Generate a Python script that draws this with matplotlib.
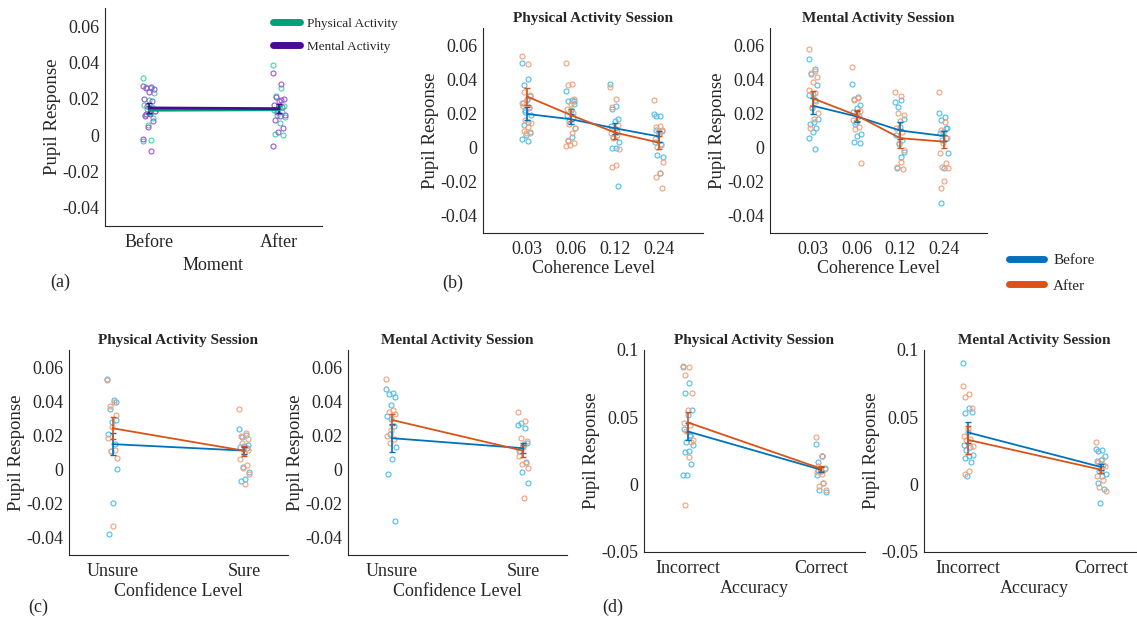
import numpy as np
import matplotlib
matplotlib.use("Agg")
import matplotlib.pyplot as plt
from matplotlib.lines import Line2D

plt.rcParams['font.family'] = ['Liberation Serif', 'DejaVu Serif']
plt.rcParams['text.color'] = '#262626'
plt.rcParams['axes.labelcolor'] = '#262626'

W, H = 1137, 628

# ---- (a) moment x activity ----
moments = ['Before', 'After']
a_phys_pts = [
    [0.0312, 0.026, 0.0266, 0.0233, 0.0196, 0.0168, 0.0153, 0.0144, 0.0131,
     0.0122, 0.0113, 0.0094, 0.0057, -0.003, -0.0026],
    [0.0388, 0.026, 0.0214, 0.0163, 0.0155, 0.014, 0.0126, 0.0113, 0.01,
     0.0066, 0.0006, -0.0001],
]
a_ment_pts = [
    [0.0273, 0.0266, 0.026, 0.0255, 0.0236, 0.0201, 0.019, 0.0159, 0.0131,
     0.0118, 0.0107, 0.0079, 0.0044, -0.0022, -0.0087, 0.0116],
    [0.0343, 0.0283, 0.0211, 0.0201, 0.0187, 0.0168, 0.0155, 0.0126, 0.0113,
     0.0103, 0.0085, 0.0039, 0.002, -0.0057, 0.0196],
]
a_phys_mean = [0.0137, 0.0140]
a_phys_err = [0.0022, 0.0020]
a_ment_mean = [0.0150, 0.0146]
a_ment_err = [0.0028, 0.0026]

# ---- (b) coherence level ----
coherence = ['0.03', '0.06', '0.12', '0.24']
b_phys_before = [
    [0.0495, 0.0403, 0.0366, 0.03, 0.028, 0.026, 0.0237, 0.0211, 0.0192, 0.0152,
     0.0133, 0.0094, 0.0074, 0.0049, 0.0041, 0.0221],
    [0.0332, 0.028, 0.027, 0.0254, 0.0221, 0.0192, 0.0178, 0.0156, 0.0113,
     0.0061, 0.0039, 0.0274],
    [0.0373, 0.0244, 0.0227, 0.0168, 0.0158, 0.0127, 0.0094, 0.0061, 0.0035,
     -0.0004, 0.0, -0.0223],
    [0.0197, 0.0186, 0.0104, 0.0098, 0.008, 0.0035, 0.0022, -0.0043, -0.0053,
     -0.0151, 0.0182],
]
b_phys_after = [
    [0.0538, 0.0489, 0.0323, 0.0309, 0.0283, 0.0244, 0.0231, 0.0162, 0.0143,
     0.0119, 0.0098, 0.0088, 0.0084, 0.026],
    [0.0495, 0.0373, 0.0368, 0.0283, 0.0256, 0.0227, 0.0201, 0.0139, 0.0113,
     0.0088, 0.0045, 0.0029, 0.0016, 0.001],
    [0.0352, 0.0285, 0.024, 0.0133, 0.0108, 0.0084, 0.0074, 0.0055, -0.001,
     -0.0102, -0.0111],
    [0.0276, 0.0127, 0.0119, 0.0104, 0.0094, 0.0049, 0.0016, 0.0006, -0.0086,
     -0.0147, -0.017, -0.0235],
]
b_phys_before_mean = [0.0197, 0.0166, 0.0113, 0.0065]
b_phys_before_err = [0.0038, 0.0030, 0.0031, 0.0030]
b_phys_after_mean = [0.0299, 0.0190, 0.0088, 0.0029]
b_phys_after_err = [0.0052, 0.0035, 0.0035, 0.0040]

b_ment_before = [
    [0.0518, 0.0461, 0.0432, 0.0368, 0.0313, 0.0305, 0.028, 0.0231, 0.0168,
     0.0147, 0.0139, 0.0113, 0.0094, 0.0055, -0.001],
    [0.0373, 0.0299, 0.0283, 0.025, 0.0231, 0.0211, 0.0186, 0.0139, 0.0078,
     0.0065, 0.0035, 0.0029, 0.0147],
    [0.0266, 0.028, 0.0237, 0.0168, 0.0119, 0.0074, 0.0045, 0.002, -0.0023,
     -0.0053, -0.0121],
    [0.0205, 0.0178, 0.0162, 0.0117, 0.0094, 0.0088, 0.0055, 0.0045, -0.0033,
     -0.0121, -0.0323, 0.0113],
]
b_ment_after = [
    [0.0577, 0.045, 0.0436, 0.0412, 0.0381, 0.0338, 0.0319, 0.0237, 0.0205,
     0.0166, 0.0113, 0.027],
    [0.0471, 0.0289, 0.028, 0.0215, 0.0186, 0.0162, 0.0123, 0.0111, -0.0088,
     0.0201],
    [0.0323, 0.0303, 0.0201, 0.0192, 0.0158, 0.0113, 0.0094, 0.0025, -0.0014,
     -0.0082, -0.0115, -0.0127],
    [0.0328, 0.0152, 0.0104, 0.0059, 0.0029, -0.0033, -0.0092, -0.0111, -0.0121,
     -0.0194, -0.0239],
]
b_ment_before_mean = [0.0244, 0.0182, 0.0100, 0.0068]
b_ment_before_err = [0.0045, 0.0030, 0.0047, 0.0032]
b_ment_after_mean = [0.0287, 0.0188, 0.0055, 0.0035]
b_ment_after_err = [0.0042, 0.0030, 0.0055, 0.0040]

# ---- (c) confidence level ----
confidence = ['Unsure', 'Sure']
c_phys_before = [
    [0.0532, 0.0409, 0.0354, 0.0291, 0.0278, 0.0207, 0.0151, 0.0106, 0.0002,
     -0.0196, -0.0377, 0.0395],
    [0.0239, 0.0203, 0.019, 0.0145, 0.0139, 0.0131, 0.0125, 0.0018, -0.0012,
     -0.0055, -0.0066],
]
c_phys_after = [
    [0.0522, 0.0393, 0.0375, 0.0321, 0.0252, 0.0184, 0.0115, 0.011, 0.0068,
     -0.0328],
    [0.0356, 0.0217, 0.0154, 0.018, 0.0096, 0.0063, 0.0027, 0.0008, -0.0027,
     -0.0086, 0.0197, 0.0115],
]
c_phys_before_mean = [0.0149, 0.0111]
c_phys_before_err = [0.0063, 0.0020]
c_phys_after_mean = [0.0242, 0.0110]
c_phys_after_err = [0.0065, 0.0030]

c_ment_before = [
    [0.0471, 0.0448, 0.0444, 0.0424, 0.0379, 0.0311, 0.0256, 0.0209, 0.0135,
     0.0061, -0.0027, -0.0301, 0.0295],
    [0.0262, 0.0242, 0.0272, 0.0158, 0.0139, 0.0111, 0.0047, -0.0016, -0.008,
     0.015],
]
c_ment_after = [
    [0.0532, 0.035, 0.034, 0.0325, 0.0229, 0.0197, 0.0178, 0.0158],
    [0.034, 0.0285, 0.0184, 0.0168, 0.0135, 0.008, 0.0041, 0.0031, 0.0012,
     -0.0168, 0.0106],
]
c_ment_before_mean = [0.0184, 0.0125]
c_ment_before_err = [0.0080, 0.0030]
c_ment_after_mean = [0.0291, 0.0110]
c_ment_after_err = [0.0032, 0.0035]

# ---- (d) accuracy ----
accuracy = ['Incorrect', 'Correct']
d_phys_before = [
    [0.0877, 0.0754, 0.068, 0.0551, 0.0519, 0.0415, 0.0358, 0.0314, 0.0292,
     0.0252, 0.024, 0.0156, 0.0069, 0.0074, 0.037],
    [0.0301, 0.021, 0.0165, 0.0124, 0.0099, 0.0074, 0.0012, -0.0037, -0.0054,
     0.0215, 0.0106],
]
d_phys_after = [
    [0.0882, 0.0872, 0.0815, 0.068, 0.0556, 0.0457, 0.0445, 0.04, 0.0329,
     0.0205, -0.0153, 0.0314],
    [0.0353, 0.021, 0.0136, 0.0116, 0.0099, 0.0091, 0.0012, -0.0012, -0.0037,
     0.0082],
]
d_phys_before_mean = [0.0395, 0.0111]
d_phys_before_err = [0.0066, 0.0020]
d_phys_after_mean = [0.0462, 0.0119]
d_phys_after_err = [0.0074, 0.0020]

d_ment_before = [
    [0.0902, 0.0568, 0.0531, 0.0536, 0.0388, 0.0296, 0.0277, 0.0254, 0.0222,
     0.021, 0.0198, 0.0165, 0.0067],
    [0.0264, 0.0254, 0.0247, 0.021, 0.0185, 0.0178, 0.0148, 0.0099, 0.0082,
     0.0062, 0.0012, -0.003, -0.0136],
]
d_ment_after = [
    [0.0734, 0.0674, 0.065, 0.0568, 0.0412, 0.0358, 0.0341, 0.0329, 0.0284,
     0.0104, 0.0079],
    [0.0314, 0.019, 0.0165, 0.0136, 0.0111, 0.0067, 0.0037, -0.0017, -0.0049],
]
d_ment_before_mean = [0.0388, 0.0131]
d_ment_before_err = [0.0075, 0.0025]
d_ment_after_mean = [0.0333, 0.0111]
d_ment_after_err = [0.0105, 0.0025]

BLUE, BLUE_PT = '#0072BD', '#4DBEEE'
ORANGE, ORANGE_PT = '#D95319', '#F59F78'
GREEN, GREEN_PT = '#00A07A', '#40D6A8'
PURPLE, PURPLE_PT = '#4B0A92', '#9A58D8'
DARK = '#262626'


def px_axes(fig, left, top, right, bottom):
    return fig.add_axes([left / W, 1 - bottom / H,
                         (right - left) / W, (bottom - top) / H])


def jitter(n, width):
    # spread the points evenly around the category centre
    return width * (((np.arange(n) * 0.6180339887) % 1) * 2 - 1)


def style(ax, labels, xlim, ylim, yticks, ytl, xlabel, title=None, xlpad=1):
    for s in ['top', 'right']:
        ax.spines[s].set_visible(False)
    for s in ['left', 'bottom']:
        ax.spines[s].set_color(DARK)
        ax.spines[s].set_linewidth(0.8)
    ax.set_xlim(*xlim)
    ax.set_ylim(*ylim)
    ax.set_xticks(np.arange(1, len(labels) + 1))
    ax.set_xticklabels(labels)
    ax.set_yticks(yticks)
    ax.set_yticklabels(ytl)
    ax.tick_params(length=0, labelsize=13, colors=DARK, pad=4)
    ax.tick_params(axis='x', pad=6)
    ax.set_xlabel(xlabel, fontsize=13, labelpad=xlpad)
    ax.set_ylabel('Pupil Response', fontsize=13.5, labelpad=1)
    if title:
        ax.set_title(title, fontsize=11, fontweight='bold', pad=4)


def draw_groups(ax, groups, jw, lw=1.3, ms=3.6):
    # groups: list of (points, means, errs, line colour, point colour)
    for pts, _, _, _, pc in groups:
        for i, vals in enumerate(pts):
            x = i + 1 + jitter(len(vals), jw)
            ax.plot(x, vals, 'o', mfc='none', mec=pc, ms=ms, mew=0.8)
    for _, mean, err, lc, _ in groups:
        x = np.arange(1, len(mean) + 1)
        ax.errorbar(x, mean, yerr=err, color=lc, lw=lw, elinewidth=1.2,
                    capsize=2, capthick=1.0)


fig = plt.figure(figsize=(W / 100, H / 100), dpi=100)

yt1 = [-0.04, -0.02, 0, 0.02, 0.04, 0.06]
yt1l = ['-0.04', '-0.02', '0', '0.02', '0.04', '0.06']
yt2 = [-0.05, 0, 0.05, 0.1]
yt2l = ['-0.05', '0', '0.05', '0.1']

# (a)
ax = px_axes(fig, 105, 8, 322, 226)
draw_groups(ax, [(a_phys_pts, a_phys_mean, a_phys_err, GREEN, GREEN_PT),
                 (a_ment_pts, a_ment_mean, a_ment_err, PURPLE, PURPLE_PT)],
            0.05, lw=2.0)
style(ax, moments, (0.66, 2.33), (-0.05, 0.07), yt1, yt1l, 'Moment', xlpad=4)
ax.legend(handles=[Line2D([], [], color=GREEN, lw=5, solid_capstyle='round'),
                   Line2D([], [], color=PURPLE, lw=5, solid_capstyle='round')],
          labels=['Physical Activity', 'Mental Activity'],
          loc='upper left', bbox_to_anchor=(0.72, 1.01), frameon=False,
          fontsize=9.5, handlelength=2.0, handletextpad=0.6, labelspacing=0.8)

# (b)
ax = px_axes(fig, 483, 28, 703, 233)
draw_groups(ax, [(b_phys_before, b_phys_before_mean, b_phys_before_err, BLUE, BLUE_PT),
                 (b_phys_after, b_phys_after_mean, b_phys_after_err, ORANGE, ORANGE_PT)],
            0.11)
style(ax, coherence, (0, 5), (-0.05, 0.07), yt1, yt1l, 'Coherence Level',
      'Physical Activity Session')

ax = px_axes(fig, 770, 28, 987, 233)
draw_groups(ax, [(b_ment_before, b_ment_before_mean, b_ment_before_err, BLUE, BLUE_PT),
                 (b_ment_after, b_ment_after_mean, b_ment_after_err, ORANGE, ORANGE_PT)],
            0.11)
style(ax, coherence, (0, 5), (-0.05, 0.07), yt1, yt1l, 'Coherence Level',
      'Mental Activity Session')

# (c)
ax = px_axes(fig, 69, 350, 288, 555)
draw_groups(ax, [(c_phys_before, c_phys_before_mean, c_phys_before_err, BLUE, BLUE_PT),
                 (c_phys_after, c_phys_after_mean, c_phys_after_err, ORANGE, ORANGE_PT)],
            0.04)
style(ax, confidence, (0.67, 2.33), (-0.05, 0.07), yt1, yt1l, 'Confidence Level',
      'Physical Activity Session', xlpad=2)

ax = px_axes(fig, 348, 350, 567, 555)
draw_groups(ax, [(c_ment_before, c_ment_before_mean, c_ment_before_err, BLUE, BLUE_PT),
                 (c_ment_after, c_ment_after_mean, c_ment_after_err, ORANGE, ORANGE_PT)],
            0.04)
style(ax, confidence, (0.67, 2.33), (-0.05, 0.07), yt1, yt1l, 'Confidence Level',
      'Mental Activity Session', xlpad=2)

# (d)
ax = px_axes(fig, 644, 350, 865, 552)
draw_groups(ax, [(d_phys_before, d_phys_before_mean, d_phys_before_err, BLUE, BLUE_PT),
                 (d_phys_after, d_phys_after_mean, d_phys_after_err, ORANGE, ORANGE_PT)],
            0.04)
style(ax, accuracy, (0.67, 2.33), (-0.05, 0.1), yt2, yt2l, 'Accuracy',
      'Physical Activity Session', xlpad=2)

ax = px_axes(fig, 924, 350, 1145, 552)
draw_groups(ax, [(d_ment_before, d_ment_before_mean, d_ment_before_err, BLUE, BLUE_PT),
                 (d_ment_after, d_ment_after_mean, d_ment_after_err, ORANGE, ORANGE_PT)],
            0.04)
style(ax, accuracy, (0.67, 2.33), (-0.05, 0.1), yt2, yt2l, 'Accuracy',
      'Mental Activity Session', xlpad=2)

# shared Before / After legend
fig.legend(handles=[Line2D([], [], color=BLUE, lw=5, solid_capstyle='round'),
                    Line2D([], [], color=ORANGE, lw=5, solid_capstyle='round')],
           labels=['Before', 'After'], loc='upper left',
           bbox_to_anchor=(995 / W, 1 - 240 / H), frameon=False,
           fontsize=11, handlelength=2.3, handletextpad=0.6, labelspacing=0.75)

for lbl, x, y in [('(a)', 60, 282), ('(b)', 453, 283), ('(c)', 38, 607), ('(d)', 613, 607)]:
    fig.text(x / W, 1 - y / H, lbl, fontsize=13, ha='center', va='center')

fig.savefig('out.png', dpi=100)
